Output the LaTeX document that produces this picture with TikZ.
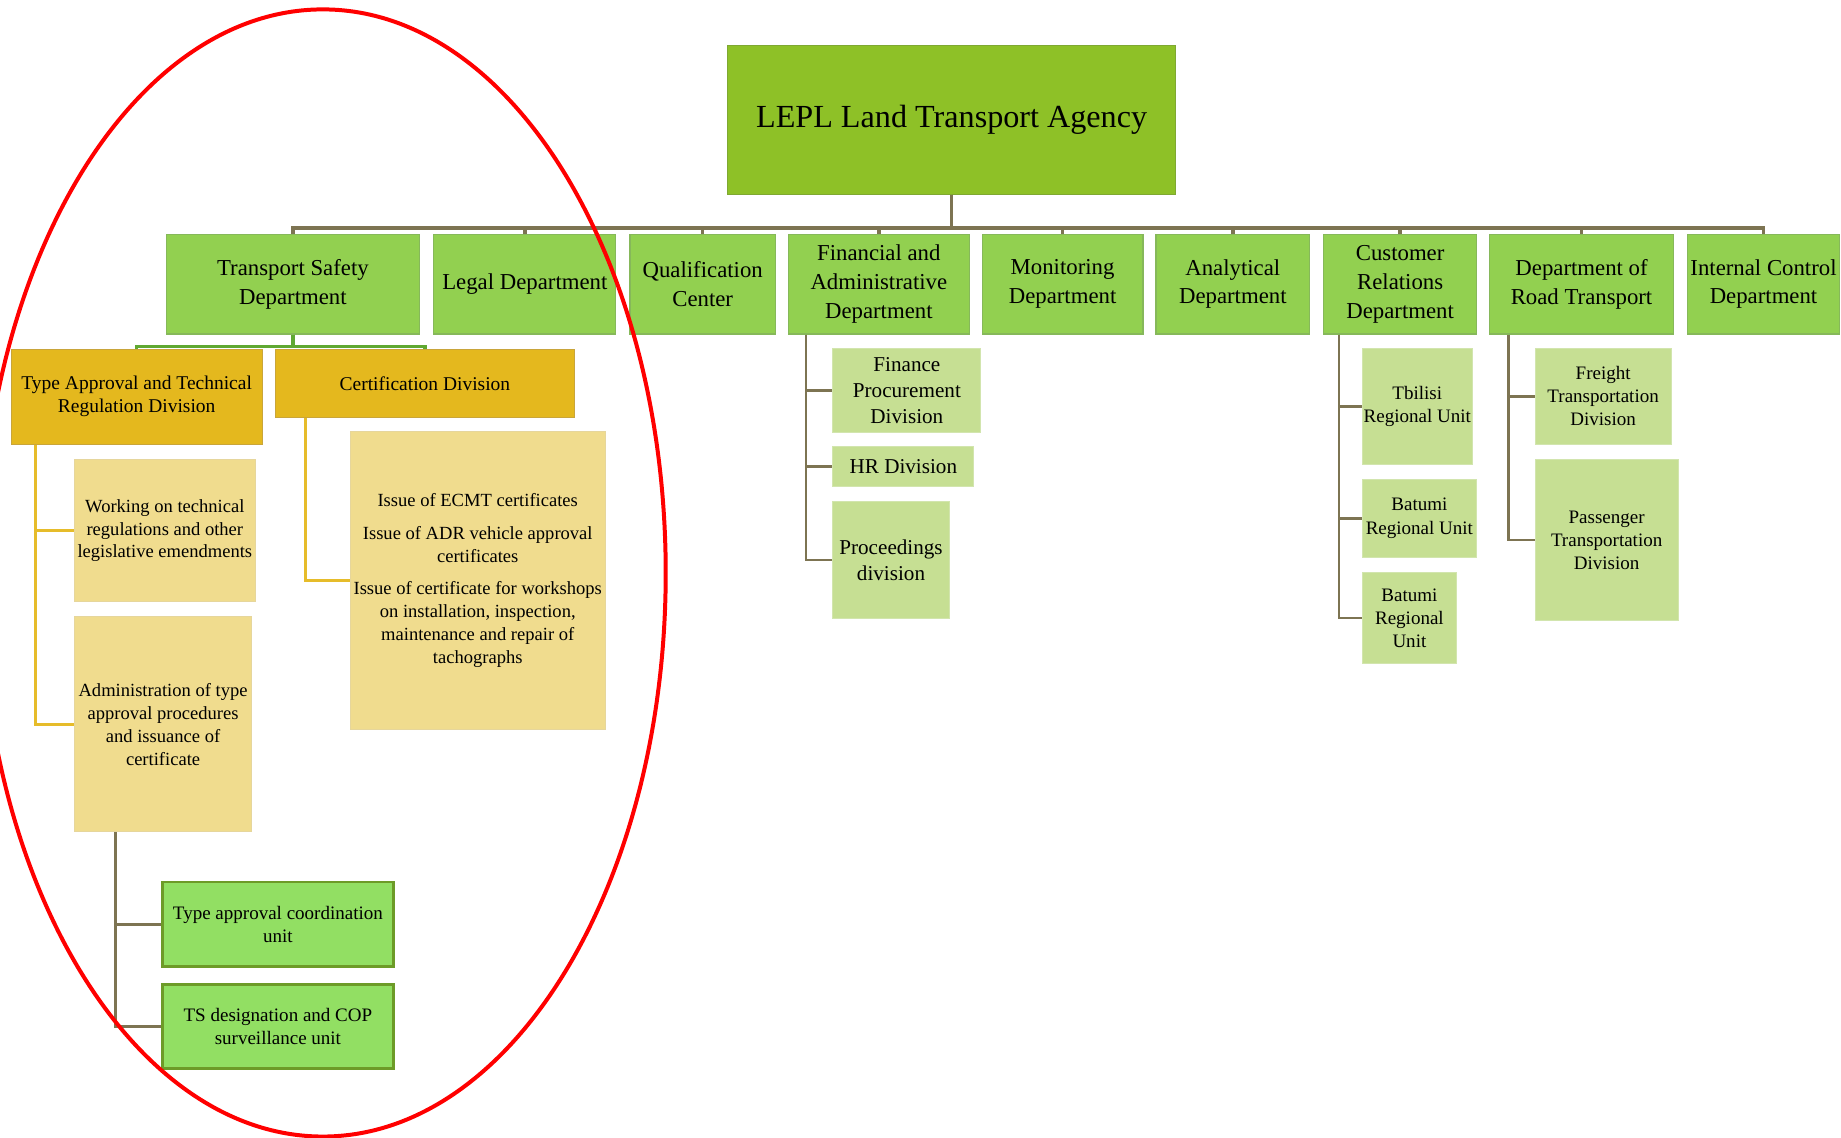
\documentclass[tikz,border=0pt]{standalone}
\usepackage{fontspec}
\setmainfont{Liberation Serif}
\definecolor{topfill}{HTML}{8EC127}
\definecolor{topdraw}{HTML}{7FA832}
\definecolor{deptfill}{HTML}{92D050}
\definecolor{deptdraw}{HTML}{86B85A}
\definecolor{brownln}{HTML}{7D7452}
\definecolor{goldfill}{HTML}{E4B81E}
\definecolor{golddraw}{HTML}{C9A53A}
\definecolor{goldln}{HTML}{E6BC2A}
\definecolor{palegold}{HTML}{F0DC8E}
\definecolor{palegolddraw}{HTML}{E6D69C}
\definecolor{palegreen}{HTML}{C6DF93}
\definecolor{palegreendraw}{HTML}{D2E5AE}
\definecolor{unitfill}{HTML}{92DF63}
\definecolor{unitdraw}{HTML}{6D9B28}
\definecolor{greenln}{HTML}{5FA832}
\tikzset{
  box/.style={rectangle, anchor=north west, align=center, inner sep=0.5pt, text=black},
  topbox/.style={box, fill=topfill, draw=topdraw, line width=0.5pt, font={\fontsize{13.7}{16}\selectfont}},
  deptbox/.style={box, fill=deptfill, draw=deptdraw, line width=0.5pt, font={\fontsize{9.7}{12.25}\selectfont}},
  goldbox/.style={box, fill=goldfill, draw=golddraw, line width=0.4pt, font={\fontsize{8.3}{9.8}\selectfont}},
  paleboxgold/.style={box, fill=palegold, draw=palegolddraw, line width=0.4pt, font={\fontsize{7.9}{9.75}\selectfont}},
  paleboxgreen/.style={box, fill=palegreen, draw=palegreendraw, line width=0.4pt, font={\fontsize{8.1}{9.8}\selectfont}},
  finbox/.style={box, fill=palegreen, draw=palegreendraw, line width=0.4pt, font={\fontsize{9}{11}\selectfont}},
  unitbox/.style={box, fill=unitfill, draw=unitdraw, line width=1.2pt, font={\fontsize{8.1}{10}\selectfont}},
  busline/.style={draw=brownln, line width=1.5pt},
  subline/.style={draw=brownln, line width=1.2pt},
  goldline/.style={draw=goldln, line width=1.2pt},
  greenline/.style={draw=greenln, line width=1.4pt},
}
\begin{document}
\begin{tikzpicture}[x=0.5pt, y=-0.5pt]
\useasboundingbox (0,0) rectangle (1568,969);
\fill[white] (0,0) rectangle (1568,969);

% top
\node[topbox, minimum width=191pt, minimum height=63.5pt] (lepl) at (619,38) {LEPL Land Transport Agency};

% departments
\node[deptbox, minimum width=108pt, minimum height=42.5pt] (ts) at (141,199) {Transport Safety\\Department};
\node[deptbox, minimum width=77.5pt, minimum height=42.5pt] (legal) at (369,199) {Legal Department};
\node[deptbox, minimum width=62pt, minimum height=42.5pt] (qual) at (536,199) {Qualification\\Center};
\node[deptbox, minimum width=77pt, minimum height=42.5pt] (fin) at (671,199) {Financial and\\Administrative\\Department};
\node[deptbox, minimum width=68.5pt, minimum height=42.5pt] (mon) at (836,199) {Monitoring\\Department};
\node[deptbox, minimum width=65.5pt, minimum height=42.5pt] (ana) at (984,199) {Analytical\\Department};
\node[deptbox, minimum width=65pt, minimum height=42.5pt] (cust) at (1127,199) {Customer\\Relations\\Department};
\node[deptbox, minimum width=78.5pt, minimum height=42.5pt] (road) at (1268,199) {Department of\\Road Transport};
\node[deptbox, minimum width=64.5pt, minimum height=42.5pt] (ic) at (1437,199) {Internal Control\\Department};

% transport safety branch
\node[goldbox, minimum width=107pt, minimum height=40.5pt] (ta) at (9,297) {Type Approval and Technical\\Regulation Division};
\node[goldbox, minimum width=127.5pt, minimum height=29pt] (cert) at (234,297) {Certification Division};
\node[paleboxgold, minimum width=108.5pt, minimum height=127pt] (issue) at (298,367) {Issue of ECMT certificates\\[4.2pt]Issue of ADR vehicle approval\\certificates\\[4.2pt]Issue of certificate for workshops\\on installation, inspection,\\maintenance and repair of\\tachographs};
\node[paleboxgold, minimum width=77pt, minimum height=60.5pt] (work) at (63,391) {Working on technical\\regulations and other\\legislative emendments};
\node[paleboxgold, minimum width=75.5pt, minimum height=91.5pt] (admin) at (63,525) {Administration of type\\approval procedures\\and issuance of\\certificate};
\node[unitbox, minimum width=98.5pt, minimum height=36pt] (tac) at (137,750) {Type approval coordination\\unit};
\node[unitbox, minimum width=98.5pt, minimum height=36pt] (tsd) at (137,837) {TS designation and COP\\surveillance unit};

% financial branch
\node[finbox, minimum width=63pt, minimum height=36pt] (fpd) at (709,296) {Finance\\Procurement\\Division};
\node[finbox, minimum width=60pt, minimum height=17pt] (hr) at (709,380) {HR Division};
\node[finbox, minimum width=49.5pt, minimum height=49.5pt] (proc) at (709,427) {Proceedings\\division};

% customer relations branch
\node[paleboxgreen, minimum width=45pt, minimum height=49.5pt] (tbil) at (1160,296) {Tbilisi\\Regional Unit};
\node[paleboxgreen, minimum width=48.5pt, minimum height=33pt] (bat1) at (1160,408) {Batumi\\Regional Unit};
\node[paleboxgreen, minimum width=40pt, minimum height=39pt] (bat2) at (1160,487) {Batumi\\Regional\\Unit};

% road transport branch
\node[paleboxgreen, minimum width=58pt, minimum height=41pt] (freight) at (1307,296) {Freight\\Transportation\\Division};
\node[paleboxgreen, minimum width=61pt, minimum height=68.5pt] (pass) at (1307,391) {Passenger\\Transportation\\Division};

% top-level connectors
\foreach \d in {ts,legal,qual,fin,mon,ana,cust,road,ic}{
  \draw[busline] (lepl.south) -- ++(0,28) -| (\d.north);
}

% transport safety connectors
\draw[greenline] (ts.south) -- ++(0,10) -| (ta.north);
\draw[greenline] (ts.south) -- ++(0,10) -| (cert.north);
\draw[goldline] ([xshift=10.75pt]ta.south west) |- (work.west);
\draw[goldline] ([xshift=10.75pt]ta.south west) |- (admin.west);
\draw[goldline] ([xshift=13pt]cert.south west) |- (issue.west);
\draw[subline] ([xshift=17.6pt]admin.south west) |- (tac.west);
\draw[subline] ([xshift=17.6pt]admin.south west) |- (tsd.west);

% financial connectors
\draw[subline] ([xshift=7.75pt]fin.south west) |- (fpd.west);
\draw[subline] ([xshift=7.75pt]fin.south west) |- (hr.west);
\draw[subline] ([xshift=7.75pt]fin.south west) |- (proc.west);

% customer connectors
\draw[subline] ([xshift=6.75pt]cust.south west) |- (tbil.west);
\draw[subline] ([xshift=6.75pt]cust.south west) |- (bat1.west);
\draw[subline] ([xshift=6.75pt]cust.south west) |- (bat2.west);

% road connectors
\draw[subline] ([xshift=8.35pt]road.south west) |- (freight.west);
\draw[subline] ([xshift=8.35pt]road.south west) |- (pass.west);

% red ellipse
\begin{scope}
\clip (0,0) rectangle (1568,969);
\draw[red, line width=1.7pt] (275,488) ellipse [x radius=146pt, y radius=240pt];
\end{scope}
\end{tikzpicture}
\end{document}
